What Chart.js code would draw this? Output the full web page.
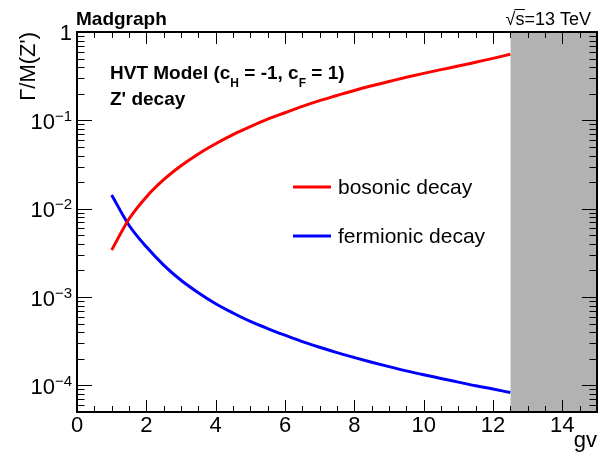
<!DOCTYPE html>
<html>
<head>
<meta charset="utf-8">
<script src="https://cdn.jsdelivr.net/npm/chart.js@4/dist/chart.umd.min.js"></script>
<style>
html,body{margin:0;padding:0;background:#fff;}
#wrap{width:607px;height:452px;position:relative;}
</style>
</head>
<body>
<div id="wrap"><canvas id="c" width="607" height="452"></canvas></div>
<script>
// ---- data ----
const gv        = [1, 1.5, 2, 2.5, 3, 3.5, 4, 4.5, 5, 5.5, 6, 6.5, 7, 7.5, 8, 8.5, 9, 9.5, 10, 10.5, 11, 11.5, 12, 12.5];
const bosonic   = [3.4e-3, 7.65e-3, 1.36e-2, 2.13e-2, 3.06e-2, 4.17e-2, 5.44e-2, 6.9e-2, 8.5e-2, 0.103, 0.122, 0.144,
                   0.167, 0.191, 0.218, 0.246, 0.275, 0.307, 0.34, 0.375, 0.412, 0.455, 0.503, 0.56];
const fermionic = [1.43e-2, 6.5e-3, 3.7e-3, 2.3e-3, 1.55e-3, 1.12e-3, 8.4e-4, 6.6e-4, 5.3e-4, 4.4e-4, 3.7e-4, 3.13e-4,
                   2.7e-4, 2.35e-4, 2.07e-4, 1.83e-4, 1.63e-4, 1.46e-4, 1.32e-4, 1.2e-4, 1.09e-4, 9.9e-5, 9.1e-5, 8.3e-5];
const excluded  = [12.5, 15];           // shaded gv range
const xMajorTicks = [0, 2, 4, 6, 8, 10, 12, 14];
const yDecades  = [0, -1, -2, -3, -4];   // exponents of labelled ticks
const xRange = [0, 15];
const yRange = [5e-5, 1];

const FONT = '"Liberation Sans", Arial, Helvetica, sans-serif';

function pts(xs, ys){ return xs.map((x,i)=>({x:x, y:ys[i]})); }

const axesPlugin = {
  id: 'rootAxes',
  afterDatasetsDraw(chart){
    const ctx = chart.ctx, a = chart.chartArea;
    const xs = chart.scales.x, ys = chart.scales.y;
    ctx.save();
    ctx.strokeStyle = '#000';
    ctx.lineWidth = 1;
    for (let v = xRange[0]; v <= xRange[1] + 1e-9; v += 0.5){
      const px = Math.round(xs.getPixelForValue(v)) + 0.5;
      const major = xMajorTicks.includes(v);
      const len = major ? 12 : 6;
      ctx.beginPath();
      ctx.moveTo(px, a.bottom); ctx.lineTo(px, a.bottom - len);
      ctx.moveTo(px, a.top); ctx.lineTo(px, a.top + len);
      ctx.stroke();
    }
    for (let e = -5; e <= 0; e++){
      for (let m = 1; m <= 9; m++){
        const v = m * Math.pow(10, e);
        if (v < yRange[0] - 1e-12 || v > yRange[1] + 1e-12) continue;
        const py = Math.round(ys.getPixelForValue(v)) + 0.5;
        const len = m === 1 ? 15 : 7.5;
        ctx.beginPath();
        ctx.moveTo(a.left, py); ctx.lineTo(a.left + len, py);
        ctx.moveTo(a.right, py); ctx.lineTo(a.right - len, py);
        ctx.stroke();
      }
    }
    ctx.lineWidth = 2;
    ctx.strokeRect(a.left, a.top, a.right - a.left, a.bottom - a.top);
    ctx.restore();
  },
  afterDraw(chart){
    const ctx = chart.ctx, a = chart.chartArea;
    const xs = chart.scales.x, ys = chart.scales.y;
    ctx.save();
    ctx.fillStyle = '#000';
    ctx.textBaseline = 'alphabetic';
    ctx.font = '22px ' + FONT;
    ctx.textAlign = 'center';
    xMajorTicks.forEach(v => {
      ctx.fillText(String(v), xs.getPixelForValue(v), 432);
    });
    yDecades.forEach(e => {
      const py = ys.getPixelForValue(Math.pow(10, e));
      const right = 72;
      if (e === 0){
        ctx.font = '22px ' + FONT;
        ctx.textAlign = 'right';
        ctx.fillText('1', right, py + 7.5);
      } else {
        ctx.font = '15px ' + FONT;
        ctx.textAlign = 'right';
        const sup = '\u2212' + String(-e);
        const sw = ctx.measureText(sup).width;
        ctx.fillText(sup, right, py + 0.5);
        ctx.font = '22px ' + FONT;
        ctx.fillText('10', right - sw, py + 8.5);
      }
    });
    ctx.font = '22px ' + FONT;
    ctx.textAlign = 'right';
    ctx.fillText('gv', a.right, 447);
    ctx.save();
    ctx.translate(35, a.top);
    ctx.rotate(-Math.PI/2);
    ctx.textAlign = 'right';
    ctx.fillText('\u0393/M(Z\')', 0, 0);
    ctx.restore();
    ctx.textAlign = 'left';
    ctx.font = 'bold 19px ' + FONT;
    ctx.fillText('Madgraph', 76, 25);
    // sqrt(s) label with overline
    ctx.font = '18px ' + FONT;
    const rest = 's=13 TeV';
    const wRest = ctx.measureText(rest).width;
    const wRoot = ctx.measureText('\u221A').width;
    const wS = ctx.measureText('s').width;
    const xEnd = 591, xRest = xEnd - wRest, xRoot = xRest - wRoot;
    ctx.fillText('\u221A', xRoot, 25);
    ctx.fillText(rest, xRest, 25);
    ctx.strokeStyle = '#000'; ctx.lineWidth = 1;
    ctx.beginPath(); ctx.moveTo(xRest - 1, 9.5); ctx.lineTo(xRest + wS + 0.5, 9.5); ctx.stroke();
    // model text with subscripts
    let x = 110;
    const parts = [['HVT Model (c', 19, 0], ['H', 12, 8.5], [' = -1, c', 19, 0], ['F', 12, 8.5], [' = 1)', 19, 0]];
    parts.forEach(p => {
      ctx.font = 'bold ' + p[1] + 'px ' + FONT;
      ctx.fillText(p[0], x, 78.5 + p[2]);
      x += ctx.measureText(p[0]).width;
    });
    ctx.font = 'bold 19px ' + FONT;
    ctx.fillText("Z' decay", 110, 105);
    const legend = [[chart.data.datasets[1], 187], [chart.data.datasets[2], 236]];
    legend.forEach(([ds, y]) => {
      ctx.strokeStyle = ds.borderColor;
      ctx.lineWidth = 3;
      ctx.beginPath(); ctx.moveTo(293, y); ctx.lineTo(331, y); ctx.stroke();
      ctx.font = '21px ' + FONT;
      ctx.fillStyle = '#000';
      ctx.fillText(ds.label, 338, y + 6.5);
    });
    ctx.restore();
  }
};

new Chart(document.getElementById('c'), {
  type: 'scatter',
  data: {
    datasets: [
      {
        label: 'excluded',
        data: pts(excluded, [yRange[1], yRange[1]]),
        showLine: true, borderWidth: 0, pointRadius: 0,
        backgroundColor: 'rgb(178,178,178)', borderColor: 'rgba(0,0,0,0)',
        fill: 'start', order: 5
      },
      {
        label: 'bosonic decay',
        data: pts(gv, bosonic),
        showLine: true, borderColor: '#ff0000', borderWidth: 3, pointRadius: 0,
        cubicInterpolationMode: 'monotone', fill: false, order: 1
      },
      {
        label: 'fermionic decay',
        data: pts(gv, fermionic),
        showLine: true, borderColor: '#0000ff', borderWidth: 3, pointRadius: 0,
        cubicInterpolationMode: 'monotone', fill: false, order: 2
      }
    ]
  },
  options: {
    responsive: false,
    animation: false,
    devicePixelRatio: 1,
    layout: { padding: { left: 77, right: 10, top: 32, bottom: 40 } },
    plugins: { legend: { display: false }, tooltip: { enabled: false }, title: { display: false } },
    scales: {
      x: { type: 'linear', min: xRange[0], max: xRange[1], display: false },
      y: { type: 'logarithmic', min: yRange[0], max: yRange[1], display: false }
    }
  },
  plugins: [axesPlugin]
});
</script>
</body>
</html>
